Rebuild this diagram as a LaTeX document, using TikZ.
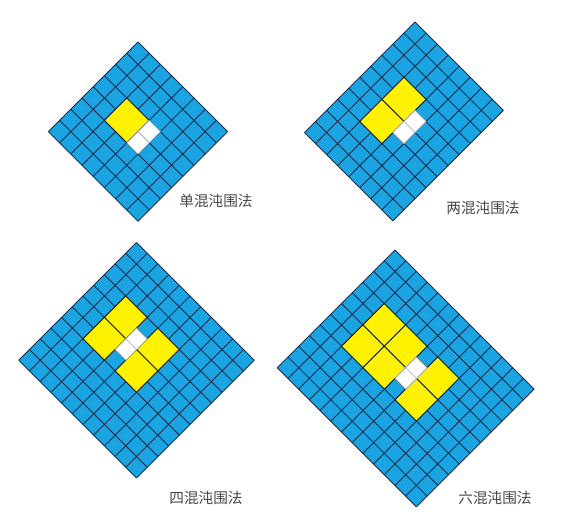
\documentclass[tikz,border=0pt]{standalone}
\usepackage{fontspec}
\newfontfamily\cjk{Noto Sans CJK SC}
\definecolor{boardblue}{RGB}{26,164,226}
\definecolor{gridnavy}{RGB}{20,44,78}
\definecolor{labelgray}{RGB}{70,70,70}

% a board of #1 x #2 cells, in the (rotated) units of the scope
\newcommand{\boardcells}[2]{%
  \fill[boardblue] (0,0) -- (#1,0) -- (#1,#2) -- (0,#2) -- cycle;
  \foreach \k in {0,...,#1} \draw[gridline] (\k,0) -- (\k,#2);
  \foreach \k in {0,...,#2} \draw[gridline] (0,\k) -- (#1,\k);
}
% a block of cells: style, i, j, width, height
\newcommand{\cellblock}[5]{%
  \filldraw[#1] (#2,#3) -- ++(#4,0) -- ++(0,#5) -- ++(-#4,0) -- cycle;
}

\begin{document}
\begin{tikzpicture}[x=0.03cm, y=-0.03cm]
    % --- Styles ---
    \tikzstyle{gridline}=[draw=gridnavy, line width=0.75pt]
    \tikzstyle{chaos}=[fill=yellow, draw=gridnavy!70!black, line width=0.75pt]
    \tikzstyle{eye}=[fill=white, draw=gray!60, line width=0.5pt]
    \tikzstyle{caption}=[font=\cjk\fontsize{12.5}{14}\selectfont, text=labelgray]
    \tikzset{board/.style={x={(#1*0.03cm,-#1*0.03cm)}, y={(-#1*0.03cm,-#1*0.03cm)}}}

    \useasboundingbox (0,0) rectangle (580,531);

    % --- 1. Single chaos ---
    \begin{scope}[shift={(138,42)}, board=11.2]
        \boardcells{8}{8}
        \cellblock{chaos}{2}{3}{2}{2}
        \cellblock{eye}{4}{3}{1}{1}
        \cellblock{eye}{4}{4}{1}{1}
    \end{scope}
    \node[caption] (dan) at (216,201) {单混沌围法};

    % --- 2. Two chaos ---
    \begin{scope}[shift={(415,22)}, board=11.05]
        \boardcells{8}{10}
        \cellblock{chaos}{2}{3}{2}{2}
        \cellblock{chaos}{2}{5}{2}{2}
        \cellblock{eye}{4}{4}{1}{1}
        \cellblock{eye}{4}{5}{1}{1}
    \end{scope}
    \node[caption] (liang) at (483,208) {两混沌围法};

    % --- 3. Four chaos ---
    \begin{scope}[shift={(136.5,242.5)}, board=10.7]
        \boardcells{11}{11}
        \cellblock{chaos}{2}{3}{2}{2}
        \cellblock{chaos}{2}{5}{2}{2}
        \cellblock{chaos}{5}{3}{2}{2}
        \cellblock{chaos}{5}{5}{2}{2}
        \cellblock{eye}{4}{4}{1}{1}
        \cellblock{eye}{4}{5}{1}{1}
    \end{scope}
    \node[caption] (si) at (206,498) {四混沌围法};

    % --- 4. Six chaos ---
    \begin{scope}[shift={(395,250)}, board=10.7]
        \boardcells{13}{11}
        \cellblock{chaos}{2}{3}{2}{2}
        \cellblock{chaos}{4}{3}{2}{2}
        \cellblock{chaos}{2}{5}{2}{2}
        \cellblock{chaos}{4}{5}{2}{2}
        \cellblock{chaos}{7}{3}{2}{2}
        \cellblock{chaos}{7}{5}{2}{2}
        \cellblock{eye}{6}{4}{1}{1}
        \cellblock{eye}{6}{5}{1}{1}
    \end{scope}
    \node[caption] (liu) at (495,498) {六混沌围法};

\end{tikzpicture}
\end{document}
